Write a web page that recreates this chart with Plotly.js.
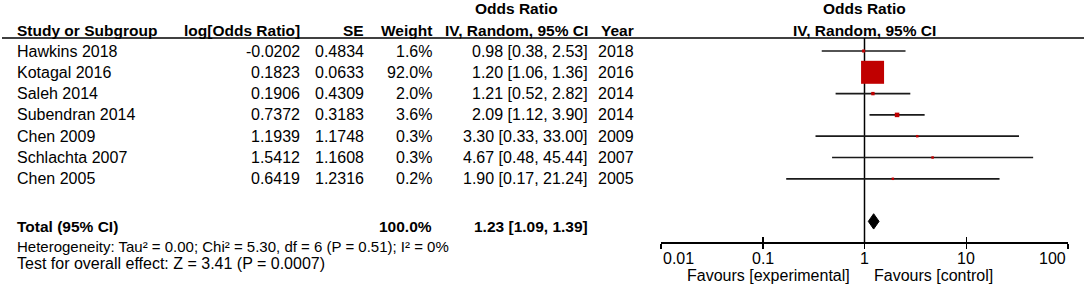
<!DOCTYPE html>
<html>
<head>
<meta charset="utf-8">
<script src="https://cdn.plot.ly/plotly-3.0.1.min.js"></script>
<style>html,body{margin:0;padding:0;background:#fff;}#chart{width:1084px;height:289px;}</style>
</head>
<body>
<div id="chart"></div>
<script>
// ---- data ----
const studies = ["Hawkins 2018","Kotagal 2016","Saleh 2014","Subendran 2014","Chen 2009","Schlachta 2007","Chen 2005"];
const logOR   = ["-0.0202","0.1823","0.1906","0.7372","1.1939","1.5412","0.6419"];
const seVals  = ["0.4834","0.0633","0.4309","0.3183","1.1748","1.1608","1.2316"];
const weights = [1.6, 92.0, 2.0, 3.6, 0.3, 0.3, 0.2];
const orVals  = [0.98, 1.20, 1.21, 2.09, 3.30, 4.67, 1.90];
const ciLow   = [0.38, 1.06, 0.52, 1.12, 0.33, 0.48, 0.17];
const ciHigh  = [2.53, 1.36, 2.82, 3.90, 33.00, 45.44, 21.24];
const years   = ["2018","2016","2014","2014","2009","2007","2005"];
const totalOR = 1.23, totalLow = 1.09, totalHigh = 1.39, totalWeight = "100.0%";
const heterogeneity = "Heterogeneity: Tau² = 0.00; Chi² = 5.30, df = 6 (P = 0.51); I² = 0%";
const overallTest = "Test for overall effect: Z = 3.41 (P = 0.0007)";
const tickVals = [0.01, 0.1, 1, 10, 100];
const tickText = ["0.01","0.1","1","10","100"];
const favLeft = "Favours [experimental]", favRight = "Favours [control]";

// ---- layout constants ----
const W = 1084, H = 289;
const ROW0 = 51, ROWH = 21.3;
const toRow = p => (p - ROW0) / ROWH;
const px = x => x / W;
const FONT = "Arial, 'Liberation Sans', sans-serif";
const FS = 16, FSB = 15.5;
const TOTAL_ROW = 8;
const AXIS_ROW = toRow(242);
const HEAD_LINE = toRow(38);

const fmt2 = v => v.toFixed(2);
const ciText = (o, l, h) => fmt2(o) + " [" + fmt2(l) + ", " + fmt2(h) + "]";

const ann = [];
function txt(text, xPix, row, anchor, bold, size) {
  ann.push({text: bold ? "<b>" + text + "</b>" : text, x: px(xPix), xref: "paper", y: row, yref: "y",
    xanchor: anchor, yanchor: "middle", showarrow: false,
    font: {family: FONT, size: size || (bold ? FSB : FS), color: "#000"}});
}
// headers
const H1 = toRow(8), H2 = toRow(30);
txt("Study or Subgroup", 15, H2, "left", true);
txt("log[Odds Ratio]", 302, H2, "right", true);
txt("SE", 366, H2, "right", true);
txt("Weight", 434, H2, "right", true);
txt("Odds Ratio", 516, H1, "center", true);
txt("IV, Random, 95% CI", 590, H2, "right", true);
txt("Year", 636, H2, "right", true);
txt("Odds Ratio", 864, H1, "center", true);
txt("IV, Random, 95% CI", 864, H2, "center", true);

studies.forEach((s, i) => {
  txt(s, 15, i, "left", false);
  txt(logOR[i], 302, i, "right", false);
  txt(seVals[i], 366, i, "right", false);
  txt(weights[i].toFixed(1) + "%", 434, i, "right", false);
  txt(ciText(orVals[i], ciLow[i], ciHigh[i]), 590, i, "right", false);
  txt(years[i], 636, i, "right", false);
});
txt("Total (95% CI)", 15, toRow(226), "left", true);
txt(totalWeight, 434, toRow(226), "right", true);
txt(ciText(totalOR, totalLow, totalHigh), 590, toRow(226), "right", true);
txt(heterogeneity, 15, toRow(246.5), "left", false, 15);
txt(overallTest, 15, toRow(263), "left", false);
txt(favLeft, 852, toRow(275), "right", false);
txt(favRight, 872, toRow(275), "left", false);

// axis tick labels (ends aligned inward like the reference)
tickVals.forEach((v, i) => {
  ann.push({text: tickText[i], x: Math.log10(v), xref: "x", y: toRow(258), yref: "y",
    xanchor: i === 0 ? "left" : (i === tickVals.length - 1 ? "right" : "center"),
    yanchor: "middle", showarrow: false, font: {family: FONT, size: FS, color: "#000"}});
});

// ---- traces ----
const lx = [], ly = [];
studies.forEach((s, i) => { lx.push(ciLow[i], ciHigh[i], null); ly.push(i, i, null); });
const maxW = Math.max(...weights);
const traces = [
  {type: "scatter", mode: "lines", x: [1, 1], y: [HEAD_LINE, AXIS_ROW], line: {color: "#000", width: 1.5},
   hoverinfo: "skip", showlegend: false},
  {type: "scatter", mode: "lines", x: lx, y: ly, line: {color: "#1a1a1a", width: 1.7},
   hoverinfo: "skip", showlegend: false},
  {type: "scatter", mode: "markers", x: orVals, y: studies.map((s, i) => i),
   marker: {symbol: "square", color: "#c00000", opacity: 1,
     size: weights.map(w => Math.max(2.5, 23 * Math.sqrt(w / maxW))), line: {width: 0}},
   hoverinfo: "skip", showlegend: false},
  {type: "scatter", mode: "lines", fill: "toself", fillcolor: "#000",
   x: [totalLow, totalOR, totalHigh, totalOR, totalLow],
   y: [TOTAL_ROW, TOTAL_ROW - 0.36, TOTAL_ROW, TOTAL_ROW + 0.36, TOTAL_ROW],
   line: {color: "#000", width: 1}, hoverinfo: "skip", showlegend: false},
  {type: "scatter", mode: "markers", x: [1], y: [AXIS_ROW], xaxis: "x2", marker: {opacity: 0}, hoverinfo: "skip", showlegend: false}
];

const layout = {
  width: W, height: H, margin: {l: 0, r: 0, t: 0, b: 0},
  paper_bgcolor: "#fff", plot_bgcolor: "rgba(0,0,0,0)",
  showlegend: false,
  xaxis: {type: "log", range: [-2, 2], domain: [px(661), px(1068)], anchor: "free",
    position: 1 - 242 / H, showline: true, linecolor: "#000", linewidth: 1.5,
    ticks: "outside", ticklen: 5, tickwidth: 1.5, tickcolor: "#000",
    tickvals: tickVals, showticklabels: false, showgrid: false, zeroline: false, fixedrange: true},
  xaxis2: {type: "log", range: [-2, 2], overlaying: "x", anchor: "free", position: 1 - 242 / H,
    showline: false, ticks: "inside", ticklen: 5, tickwidth: 1.5, tickcolor: "#000",
    tickvals: tickVals, showticklabels: false, showgrid: false, zeroline: false},
  yaxis: {range: [toRow(H), toRow(0)], domain: [0, 1], visible: false, showgrid: false, zeroline: false},
  shapes: [{type: "line", xref: "paper", yref: "y", x0: px(2), x1: 1, y0: HEAD_LINE, y1: HEAD_LINE,
    line: {color: "#000", width: 1.5}}],
  annotations: ann
};
Plotly.newPlot("chart", traces, layout, {staticPlot: true, displayModeBar: false});
</script>
</body>
</html>
